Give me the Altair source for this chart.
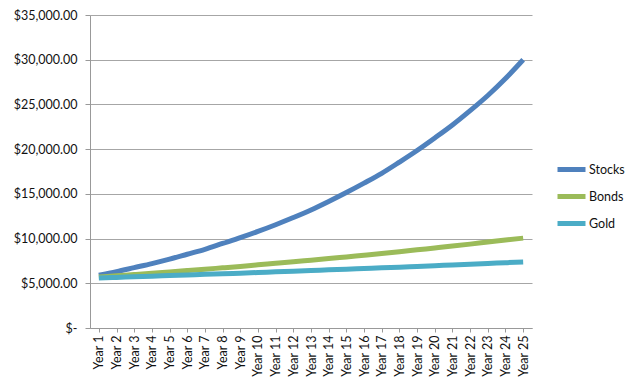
import altair as alt
import pandas as pd

years = [f"Year {i}" for i in range(1, 26)]
stocks = [5900, 6300, 6750, 7200, 7700, 8250, 8800, 9450, 10100, 10800, 11550, 12350,
          13200, 14150, 15150, 16200, 17300, 18550, 19850, 21250, 22700, 24300, 26000, 27900, 30000]
bonds = [5700, 5840, 5980, 6120, 6270, 6420, 6570, 6730, 6890, 7060, 7230, 7400, 7580,
         7760, 7950, 8140, 8330, 8530, 8740, 8950, 9160, 9380, 9610, 9840, 10050]
gold = [5600, 5660, 5730, 5790, 5860, 5930, 6000, 6060, 6130, 6200, 6280, 6350, 6420,
        6500, 6570, 6650, 6730, 6800, 6880, 6960, 7050, 7130, 7210, 7300, 7380]
series = ["Stocks", "Bonds", "Gold"]
colors = ["#4F81BD", "#9BBB59", "#4BACC6"]

rows = []
for name, vals in zip(series, [stocks, bonds, gold]):
    for y, v in zip(years, vals):
        rows.append({"Year": y, "Value": v, "Series": name})
df = pd.DataFrame(rows)

FONT = "Lato"

chart = alt.Chart(df).mark_line(strokeWidth=5, interpolate="monotone").encode(
    x=alt.X("Year:N", sort=years, title=None,
            scale=alt.Scale(paddingInner=0, paddingOuter=0),
            axis=alt.Axis(labelAngle=-90, labelAlign="right", labelBaseline="middle",
                          bandPosition=0, tickSize=4, tickColor="#999999",
                          domainColor="#999999", labelFontSize=12.5, labelColor="#111111",
                          labelPadding=3, grid=False, labelFont=FONT)),
    y=alt.Y("Value:Q", title=None,
            scale=alt.Scale(domain=[0, 35000], nice=False),
            axis=alt.Axis(values=[0, 5000, 10000, 15000, 20000, 25000, 30000, 35000],
                          labelExpr="datum.value == 0 ? '$-\u00a0\u00a0\u00a0' : format(datum.value, '$,.2f')",
                          tickSize=5, tickColor="#999999", domainColor="#999999",
                          gridColor="#a6a6a6", gridWidth=1, labelFontSize=12.5,
                          labelColor="#111111", labelPadding=8, labelFont=FONT)),
    color=alt.Color("Series:N", sort=series,
                    scale=alt.Scale(domain=series, range=colors),
                    legend=alt.Legend(title=None, orient="none", legendX=465, legendY=138,
                                      symbolType="stroke", symbolSize=784,
                                      symbolStrokeWidth=5, labelFontSize=12.5,
                                      labelFont=FONT, labelColor="#111111",
                                      labelOffset=1, rowPadding=0)),
).properties(
    width=442, height=313,
    autosize=alt.AutoSizeParams(type="none"),
    padding={"left": 82, "top": 7, "right": 100, "bottom": 53},
).configure_view(stroke=None)

chart.save("out.html", embed_options={"renderer": "svg", "actions": False})
